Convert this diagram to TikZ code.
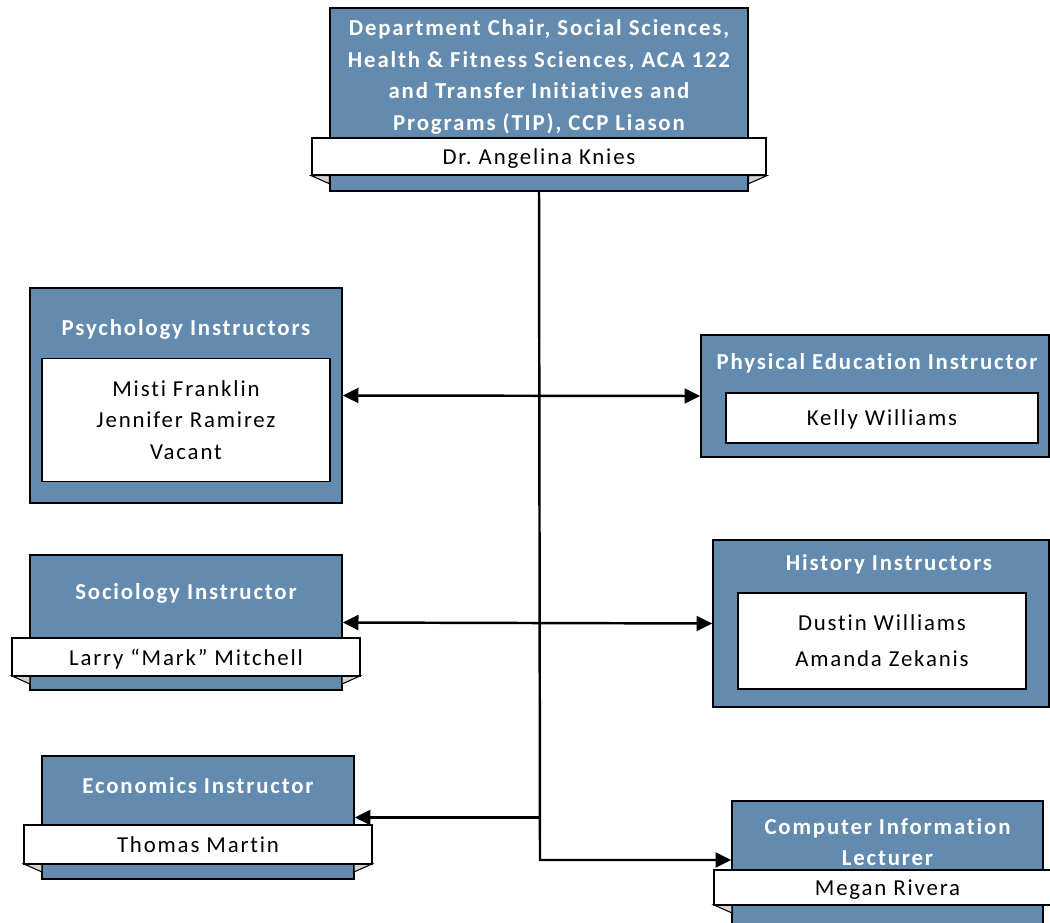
\documentclass[tikz,border=0pt]{standalone}
\usepackage{fontspec}
\setmainfont{Carlito}[LetterSpace=8,Ligatures=NoCommon]
\usetikzlibrary{arrows.meta}
\definecolor{unitblue}{RGB}{99,139,175}

\tikzset{
  unitbox/.style={draw=black,line width=0.8pt,fill=unitblue,inner sep=0pt},
  titletext/.style={text=white,font=\fontsize{13}{17.9}\selectfont\bfseries,align=center,inner sep=0pt},
  namebar/.style={draw=black,line width=0.8pt,fill=white,inner sep=0pt,font=\fontsize{13}{17.9}\selectfont,align=center},
  oneline/.style={text height=11.5pt,text depth=2.4pt},
  fold/.style={draw=black,line width=0.6pt,fill=gray!35},
  link/.style={line width=1.4pt},
  arr/.style={link,-{Triangle[length=9pt,width=8.5pt]}},
  dblarr/.style={link,{Triangle[length=9pt,width=8.5pt]}-{Triangle[length=9pt,width=8.5pt]}}
}

\begin{document}
\frenchspacing
\begin{tikzpicture}[x=0.02cm,y=-0.02cm]
\clip (0,0) rectangle (1050,922);

% Department chair
\node[unitbox,minimum width=8.36cm,minimum height=3.66cm] (chair) at (539,99.5) {};
\node[titletext] (chairT) at (539,77) {Department Chair, Social Sciences,\\Health \& Fitness Sciences, ACA 122\\and Transfer Initiatives and\\Programs (TIP), CCP Liason};
\node[namebar,oneline,minimum width=9.08cm,minimum height=0.74cm] (chairN) at (539,156.5) {Dr. Angelina Knies};
\draw[fold] (chairN.south west) -- ++(18,0) -- ++(0,8) -- cycle;
\draw[fold] (chairN.south east) -- ++(-18,0) -- ++(0,8) -- cycle;

% Psychology
\node[unitbox,minimum width=6.24cm,minimum height=4.3cm] (psych) at (186,395.5) {};
\node[titletext] (psychT) at (186,329.5) {Psychology Instructors};
\node[namebar,minimum width=5.76cm,minimum height=2.46cm] (psychN) at (186,420) {Misti Franklin\\Jennifer Ramirez\\Vacant};

% Physical education
\node[unitbox,minimum width=6.96cm,minimum height=2.44cm] (pe) at (875,396) {};
\node[titletext] (peT) at (877,363.5) {Physical Education Instructor};
\node[namebar,oneline,minimum width=6.24cm,minimum height=1.0cm] (peN) at (882,418) {Kelly Williams};

% Sociology
\node[unitbox,minimum width=6.24cm,minimum height=2.7cm] (soc) at (186,622.5) {};
\node[titletext] (socT) at (186,593.5) {Sociology Instructor};
\draw[fold] (12,676) -- ++(18,0) -- ++(0,8) -- cycle;
\draw[fold] (360,676) -- ++(-18,0) -- ++(0,8) -- cycle;
\node[namebar,oneline,minimum width=6.96cm,minimum height=0.76cm] (socN) at (186,657) {Larry “Mark” Mitchell};

% History
\node[unitbox,minimum width=6.72cm,minimum height=3.34cm] (hist) at (881,623.5) {};
\node[titletext] (histT) at (889,564.5) {History Instructors};
\node[namebar,minimum width=5.76cm,minimum height=1.92cm,font=\fontsize{13}{20.5}\selectfont] (histN) at (882,641) {Dustin Williams\\Amanda Zekanis};

% Economics
\node[unitbox,minimum width=6.24cm,minimum height=2.46cm] (econ) at (198,817.5) {};
\node[titletext] (econT) at (198,785.5) {Economics Instructor};
\draw[fold] (24,864) -- ++(18,0) -- ++(0,8) -- cycle;
\draw[fold] (372,864) -- ++(-18,0) -- ++(0,8) -- cycle;
\node[namebar,oneline,minimum width=6.96cm,minimum height=0.78cm] (econN) at (198,844.5) {Thomas Martin};

% Computer information
\node[unitbox,minimum width=6.22cm,minimum height=2.48cm] (cis) at (887.5,863) {};
\node[titletext] (cisT) at (887.5,842) {Computer Information\\Lecturer};
\draw[fold] (714,905) -- ++(18,0) -- ++(0,8) -- cycle;
\node[namebar,oneline,minimum width=6.94cm,minimum height=0.7cm] (cisN) at (887.5,887.5) {Megan Rivera};

% Connectors
\coordinate (trunkEnd) at (540,860);
\draw[arr] (chair.south) -- (trunkEnd) -- (cis.west |- trunkEnd);
\draw[dblarr] (psych.east) -- (pe.west);
\draw[dblarr] (soc.east) -- (hist.west);
\draw[arr] (trunkEnd |- econ.east) -- (econ.east);
\end{tikzpicture}
\end{document}
